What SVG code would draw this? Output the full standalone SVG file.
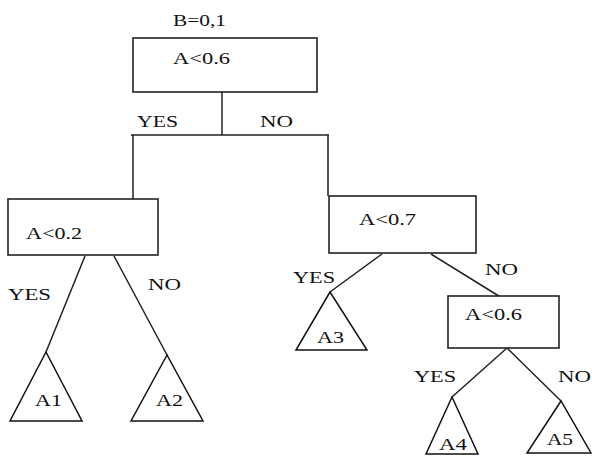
<svg xmlns="http://www.w3.org/2000/svg" width="592" height="456" viewBox="0 0 592 456">
<style>
.box{fill:#fff;stroke:#222;stroke-width:1.6}
.tri{fill:#fff;stroke:#111;stroke-width:1.5;stroke-linejoin:miter}
.ln{fill:none;stroke:#222;stroke-width:1.5}
text{font-family:"Liberation Serif","Times New Roman",serif;font-size:17px;fill:#111}
</style>
<rect width="592" height="456" fill="#fff"/>
<g id="connectors">
<path class="ln" d="M222 92V135M131 135H329M133 135V199M328 135V196"/>
<path class="ln" d="M85 256L46 352M114 256L167 355"/>
<path class="ln" d="M382 254L330 292M431 254L502 298"/>
<path class="ln" d="M507 348L452 397M507 348L561 401"/>
<text x="137" y="127" textLength="41" lengthAdjust="spacingAndGlyphs">YES</text>
<text x="260" y="127" textLength="33" lengthAdjust="spacingAndGlyphs">NO</text>
<text x="8" y="300" textLength="43" lengthAdjust="spacingAndGlyphs">YES</text>
<text x="148" y="290" textLength="33" lengthAdjust="spacingAndGlyphs">NO</text>
<text x="293" y="283" textLength="42" lengthAdjust="spacingAndGlyphs">YES</text>
<text x="485" y="275" textLength="33" lengthAdjust="spacingAndGlyphs">NO</text>
<text x="414" y="382" textLength="42" lengthAdjust="spacingAndGlyphs">YES</text>
<text x="558" y="382" textLength="33" lengthAdjust="spacingAndGlyphs">NO</text>
</g>
<g id="root">
<text x="173" y="26" textLength="53" lengthAdjust="spacingAndGlyphs">B=0,1</text>
<rect class="box" x="133" y="38" width="184" height="54"/>
<text x="173" y="64" textLength="57" lengthAdjust="spacingAndGlyphs">A&lt;0.6</text>
</g>
<g id="n_a02">
<rect class="box" x="8" y="199" width="150" height="56"/>
<text x="26" y="239" textLength="56" lengthAdjust="spacingAndGlyphs">A&lt;0.2</text>
</g>
<g id="n_a07">
<rect class="box" x="329" y="196" width="147" height="57"/>
<text x="359" y="225" textLength="57" lengthAdjust="spacingAndGlyphs">A&lt;0.7</text>
</g>
<g id="n_a06b">
<rect class="box" x="448" y="296" width="111" height="52"/>
<text x="465" y="320" textLength="57" lengthAdjust="spacingAndGlyphs">A&lt;0.6</text>
</g>
<g id="leaf_a1">
<polygon class="tri" points="46,352 10,421 82,421"/>
<text x="35" y="406" textLength="27" lengthAdjust="spacingAndGlyphs">A1</text>
</g>
<g id="leaf_a2">
<polygon class="tri" points="167,355 131,421 203,421"/>
<text x="156" y="406" textLength="27" lengthAdjust="spacingAndGlyphs">A2</text>
</g>
<g id="leaf_a3">
<polygon class="tri" points="330,292 296,350 367,350"/>
<text x="317" y="343" textLength="27" lengthAdjust="spacingAndGlyphs">A3</text>
</g>
<g id="leaf_a4">
<polygon class="tri" points="452,397 426,454 478,454"/>
<text x="439" y="450" textLength="28" lengthAdjust="spacingAndGlyphs">A4</text>
</g>
<g id="leaf_a5">
<polygon class="tri" points="561,401 527,453 591,453"/>
<text x="547" y="445" textLength="26" lengthAdjust="spacingAndGlyphs">A5</text>
</g>
</svg>
